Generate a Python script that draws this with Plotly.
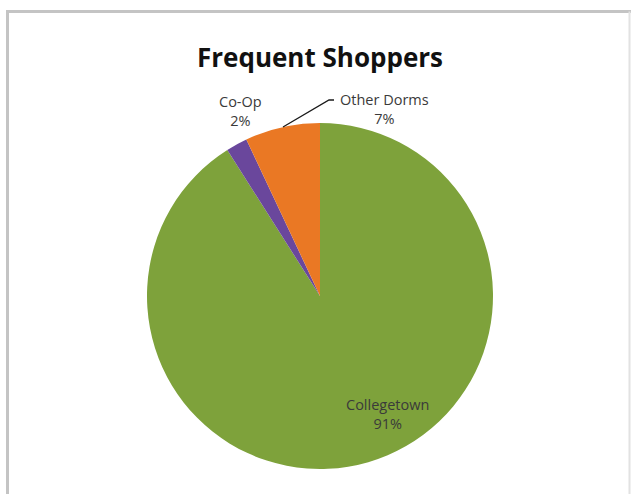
import plotly.graph_objects as go

# Data
categories = ["Collegetown", "Co-Op", "Other Dorms"]
values = [91, 2, 7]
colors = ["#7ea23b", "#6a479c", "#ea7824"]
title_text = "Frequent Shoppers"

W, H = 631, 494
cx, cy, r = 320, 296, 173  # pixel layout of the pie

fig = go.Figure()
fig.add_trace(go.Pie(
    labels=categories,
    values=values,
    sort=False,
    direction="clockwise",
    rotation=0,
    marker=dict(colors=colors, line=dict(width=0)),
    textinfo="none",
    hoverinfo="label+percent",
    showlegend=False,
    domain=dict(x=[(cx - r) / W, (cx + r) / W], y=[(H - cy - r) / H, (H - cy + r) / H]),
))

total = sum(values)
pct = [f"{round(v / total * 100)}%" for v in values]

def px(x):
    return x / W

def py(y):
    return 1 - y / H

label_pos = {
    "Collegetown": (388, 414),
    "Co-Op": (240, 111),
    "Other Dorms": (384, 109),
}
annotations = []
for name, p in zip(categories, pct):
    x, y = label_pos[name]
    annotations.append(dict(
        x=px(x), y=py(y), xref="paper", yref="paper",
        text=f"{name}<br>{p}", showarrow=False,
        font=dict(family="'Open Sans', Lato, sans-serif", size=14.5, color="#3a3a3a"),
        align="center", xanchor="center", yanchor="middle",
    ))

annotations.append(dict(
    x=px(320), y=py(57), xref="paper", yref="paper",
    text=f"<b>{title_text}</b>", showarrow=False,
    font=dict(family="'Open Sans', Lato, sans-serif", size=26, color="#111111"),
    xanchor="center", yanchor="middle",
))

frame = "#c4c4c4"
shapes = [
    # chart frame: top, left, right
    dict(type="line", xref="paper", yref="paper", x0=px(6), y0=py(11.5), x1=px(631), y1=py(11.5),
         line=dict(color=frame, width=3)),
    dict(type="line", xref="paper", yref="paper", x0=px(7.5), y0=py(11.5), x1=px(7.5), y1=py(494),
         line=dict(color=frame, width=3)),
    dict(type="line", xref="paper", yref="paper", x0=px(629.5), y0=py(11.5), x1=px(629.5), y1=py(494),
         line=dict(color="#e2e2e2", width=2)),
    # leader line for Other Dorms
    dict(type="path", xref="paper", yref="paper",
         path=f"M {px(283)},{py(127)} L {px(329)},{py(100)} L {px(334)},{py(100)}",
         line=dict(color="#1a1a1a", width=1.3)),
]

fig.update_layout(
    width=W, height=H,
    margin=dict(l=0, r=0, t=0, b=0),
    paper_bgcolor="white", plot_bgcolor="white",
    annotations=annotations,
    shapes=shapes,
)

fig.write_html("out.html")
